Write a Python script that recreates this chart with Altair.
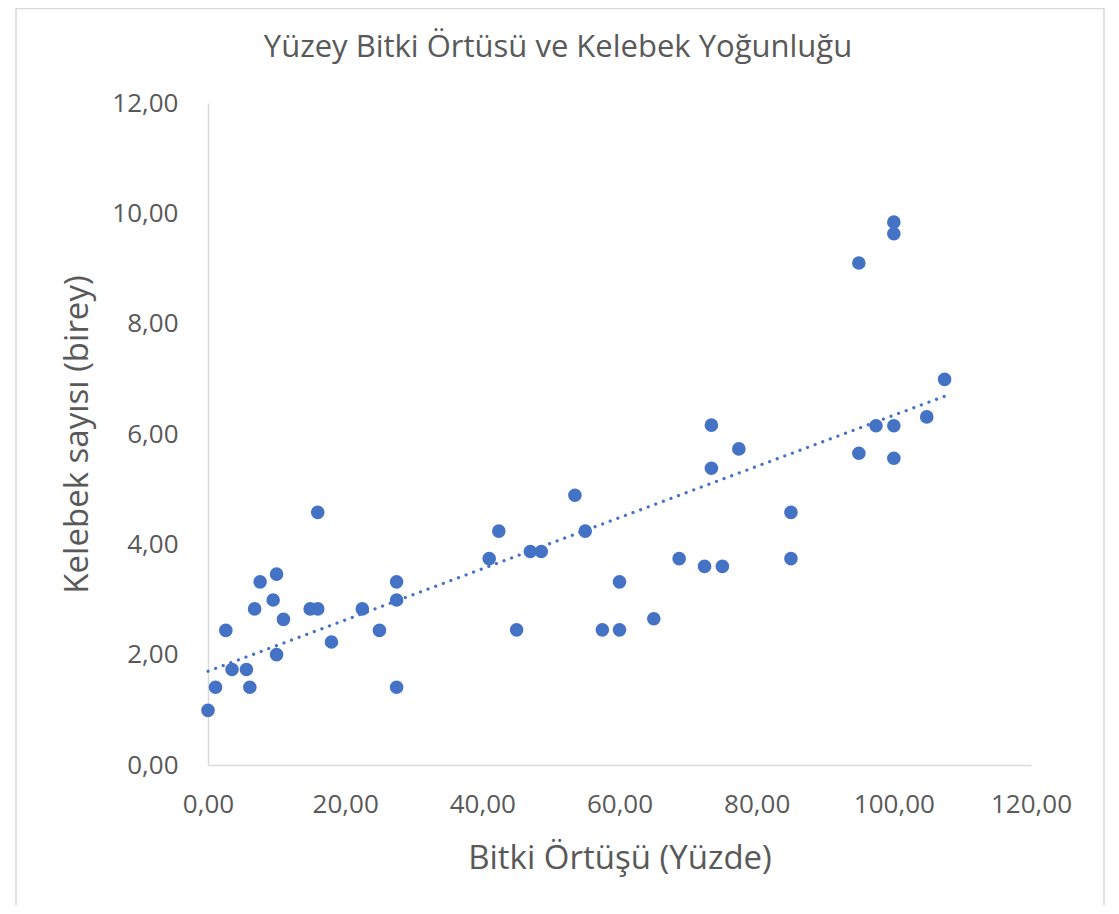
import altair as alt
import pandas as pd

bitki = [0.0, 1.1, 2.6, 3.5, 5.6, 6.1, 6.8, 7.6, 9.5, 10.0, 10.0, 11.0, 14.9, 16.0, 16.0,
         18.0, 22.5, 25.0, 27.5, 27.5, 27.5, 41.0, 42.4, 45.0, 47.0, 48.6, 53.5, 55.0,
         57.5, 60.0, 60.0, 65.0, 68.7, 72.4, 75.0, 73.4, 73.4, 77.4, 85.0, 85.0, 94.9,
         94.9, 97.4, 100.0, 100.0, 100.0, 100.0, 104.8, 107.4]
kelebek = [0.99, 1.41, 2.44, 1.73, 1.73, 1.41, 2.83, 3.32, 2.99, 3.46, 2.00, 2.64, 2.83, 2.83, 4.58,
           2.23, 2.83, 2.44, 3.32, 2.99, 1.41, 3.74, 4.24, 2.45, 3.87, 3.87, 4.89, 4.24,
           2.45, 2.45, 3.32, 2.65, 3.74, 3.60, 3.60, 6.16, 5.38, 5.73, 4.58, 3.74, 9.10,
           5.65, 6.15, 9.84, 9.63, 6.15, 5.56, 6.31, 6.99]
x_ticks = [0, 20, 40, 60, 80, 100, 120]
y_ticks = [0, 2, 4, 6, 8, 10, 12]
title_text = ["Yüzey Bitki Örtüsü ve Kelebek Yoğunluğu"]

df = pd.DataFrame({"x": bitki, "y": kelebek})

FONT = "Open Sans"
TXT = "#595959"
BLUE = "#4472C4"
LINE = "#D9D9D9"
fmt = "replace(format(datum.value, '.2f'), '.', ',')"

W, H = 823, 662

xenc = alt.X("x:Q", scale=alt.Scale(domain=[0, 120], nice=False),
             axis=alt.Axis(values=x_ticks, labelExpr=fmt, title="Bitki Örtüşü (Yüzde)",
                           grid=False, ticks=False, tickSize=0, labelPadding=26,
                           labelFlush=False, labelOverlap=False,
                           labelFontSize=26, labelColor=TXT, labelFont=FONT,
                           domainColor=LINE, domainWidth=1.5,
                           titleFontSize=33, titleFont=FONT, titleColor=TXT,
                           titleFontWeight="normal", titleX=W / 2, titleY=93,
                           titleBaseline="middle", titleAlign="center"))
yenc = alt.Y("y:Q", scale=alt.Scale(domain=[0, 12], nice=False),
             axis=alt.Axis(values=y_ticks, labelExpr=fmt, title="Kelebek sayısı (birey)",
                           grid=False, ticks=False, tickSize=0, labelPadding=30,
                           labelFlush=False, labelOverlap=False,
                           labelFontSize=26, labelColor=TXT, labelFont=FONT,
                           domainColor=LINE, domainWidth=1.5,
                           titleFontSize=33, titleFont=FONT, titleColor=TXT,
                           titleFontWeight="normal", titleX=-131, titleY=H / 2,
                           titleBaseline="middle", titleAlign="center", titleAngle=270))

base = alt.Chart(df)

points = base.mark_circle(size=185, color=BLUE, opacity=1).encode(x=xenc, y=yenc)

trend = base.transform_regression("x", "y", method="linear").mark_line(
    color=BLUE, strokeWidth=3.2, strokeCap="round", strokeDash=[0.1, 8]
).encode(x="x:Q", y="y:Q")

one = pd.DataFrame({"t": title_text})

border = alt.Chart(one).mark_rect(
    fill=None, stroke=LINE, strokeWidth=1.5
).encode(x=alt.value(-192), x2=alt.value(896), y=alt.value(-94.5), y2=alt.value(900))

title = alt.Chart(one).mark_text(
    font=FONT, fontSize=31, color=TXT, align="center", baseline="middle"
).encode(text="t:N", x=alt.value(350), y=alt.value(-55))

chart = alt.layer(border, title, trend, points).properties(
    width=W, height=H,
    autosize=alt.AutoSizeParams(type="none"),
    padding={"left": 200, "top": 95, "right": 80, "bottom": 140},
).configure(background="white").configure_view(strokeWidth=0, stroke="transparent")

chart.save("out.html", embed_options={"renderer": "svg", "actions": False})
